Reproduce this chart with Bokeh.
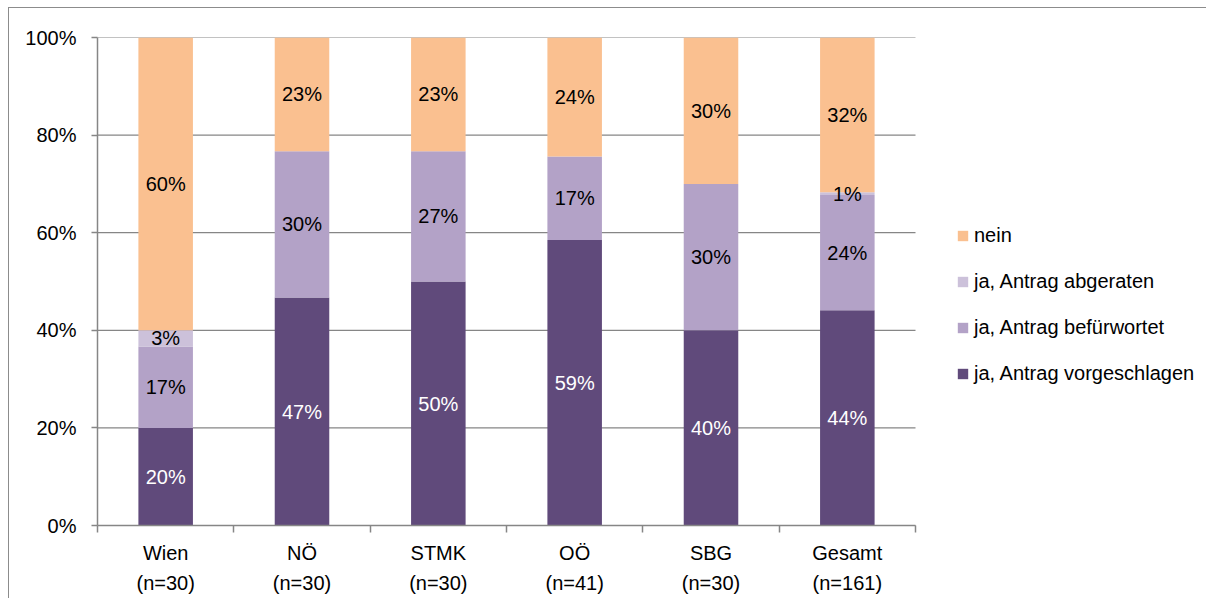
import math
from bokeh.plotting import figure
from bokeh.models import Range1d, FixedTicker, PrintfTickFormatter, Legend, LegendItem, ColumnDataSource
from bokeh.core.properties import value
from bokeh.embed import file_html
from bokeh.resources import INLINE

# ---------------- data ----------------
categories = ["Wien", "NÖ", "STMK", "OÖ", "SBG", "Gesamt"]
sample_sizes = ["(n=30)", "(n=30)", "(n=30)", "(n=41)", "(n=30)", "(n=161)"]
series_names = ["ja, Antrag vorgeschlagen", "ja, Antrag befürwortet", "ja, Antrag abgeraten", "nein"]
vorgeschlagen = [20.0, 46.7, 50.0, 58.5, 40.0, 44.1]
befuerwortet = [16.7, 30.0, 26.7, 17.1, 30.0, 23.6]
abgeraten = [3.3, 0.0, 0.0, 0.0, 0.0, 0.6]
nein = [60.0, 23.3, 23.3, 24.4, 30.0, 31.7]
y_ticks = [0, 20, 40, 60, 80, 100]

series = [vorgeschlagen, befuerwortet, abgeraten, nein]
colors = ["#604A7B", "#B3A2C7", "#CCC1DA", "#FAC090"]
label_colors = ["#FFFFFF", "#000000", "#000000", "#000000"]

FONT = "'Liberation Sans', Arial, sans-serif"
FS = "20px"
GREY = "#868686"

W, H = 1198, 591
BL, BT, BB, BR = 88, 29, 74, 7
n_cat = len(categories)
plot_px = 818  # pixel width of the category area
frame_w = W - BL - BR
x_end = n_cat * frame_w / plot_px

p = figure(width=W, height=H, output_backend="svg", toolbar_location=None,
           x_range=Range1d(0, x_end), y_range=Range1d(0, 100),
           min_border_left=BL, min_border_top=BT, min_border_bottom=BB, min_border_right=BR)
p.outline_line_color = None
p.styles = {"margin-left": "8px", "margin-top": "7px",
            "border-left": "1px solid #8c8c8c", "border-top": "1px solid #8c8c8c"}

# horizontal gridlines limited to category area
p.segment(x0=[0] * len(y_ticks), x1=[n_cat] * len(y_ticks), y0=y_ticks, y1=y_ticks,
          line_color=GREY, line_width=1.2, level="underlay")

xs = [i + 0.5 for i in range(n_cat)]
bottoms = [0.0] * n_cat
renderers = []
lx, ly, lt, lc = [], [], [], []
for vals, col, lcol in zip(series, colors, label_colors):
    tops = [b + v for b, v in zip(bottoms, vals)]
    src = ColumnDataSource(dict(x=xs, bottom=bottoms, top=tops))
    r = p.vbar(x="x", bottom="bottom", top="top", width=0.4, source=src,
               fill_color=col, line_color=None)
    renderers.append(r)
    for x, b, t, v in zip(xs, bottoms, tops, vals):
        if v > 0:
            lx.append(x)
            ly.append((b + t) / 2)
            lt.append(f"{math.floor(v + 0.5)}%")
            lc.append(lcol)
    bottoms = tops

p.text(x=lx, y=ly, text=lt, text_color=lc, text_align="center", text_baseline="middle",
       text_font=value(FONT), text_font_size=FS)

# y axis
p.yaxis.ticker = FixedTicker(ticks=y_ticks)
p.yaxis.formatter = PrintfTickFormatter(format="%d%%")
p.yaxis.axis_line_color = GREY
p.yaxis.axis_line_width = 1.5
p.yaxis.major_tick_line_color = GREY
p.yaxis.major_tick_line_width = 1.5
p.yaxis.major_tick_in = 0
p.yaxis.major_tick_out = 6
p.yaxis.minor_tick_line_color = None
p.yaxis.major_label_text_font = FONT
p.yaxis.major_label_text_font_size = FS
p.yaxis.major_label_text_color = "#000000"
p.yaxis.major_label_standoff = 15

# x axis
p.xaxis.bounds = (0, n_cat)
p.xaxis.ticker = FixedTicker(ticks=xs, minor_ticks=list(range(n_cat + 1)))
p.xaxis.major_label_overrides = {x: f"{c}\n{n}" for x, c, n in zip(xs, categories, sample_sizes)}
p.xaxis.axis_line_color = GREY
p.xaxis.axis_line_width = 1.5
p.xaxis.major_tick_line_color = None
p.xaxis.major_tick_in = 0
p.xaxis.major_tick_out = 7
p.xaxis.minor_tick_line_color = GREY
p.xaxis.minor_tick_line_width = 1.5
p.xaxis.minor_tick_in = 0
p.xaxis.minor_tick_out = 7
p.xaxis.major_label_text_font = FONT
p.xaxis.major_label_text_font_size = FS
p.xaxis.major_label_text_line_height = 1.4
p.xaxis.major_label_text_color = "#000000"
p.xaxis.major_label_standoff = 9

p.xgrid.visible = False
p.ygrid.visible = False

items = [LegendItem(label=name, renderers=[r]) for name, r in zip(series_names, renderers)][::-1]
legend = Legend(items=items, location=(859, 140), padding=0, margin=0,
                border_line_color=None, background_fill_alpha=0,
                glyph_width=13, glyph_height=13, label_height=20, spacing=23,
                label_standoff=5, label_text_font=FONT, label_text_font_size=FS,
                label_text_color="#000000")
p.add_layout(legend)

open("out.html", "w").write(file_html(p, INLINE))
